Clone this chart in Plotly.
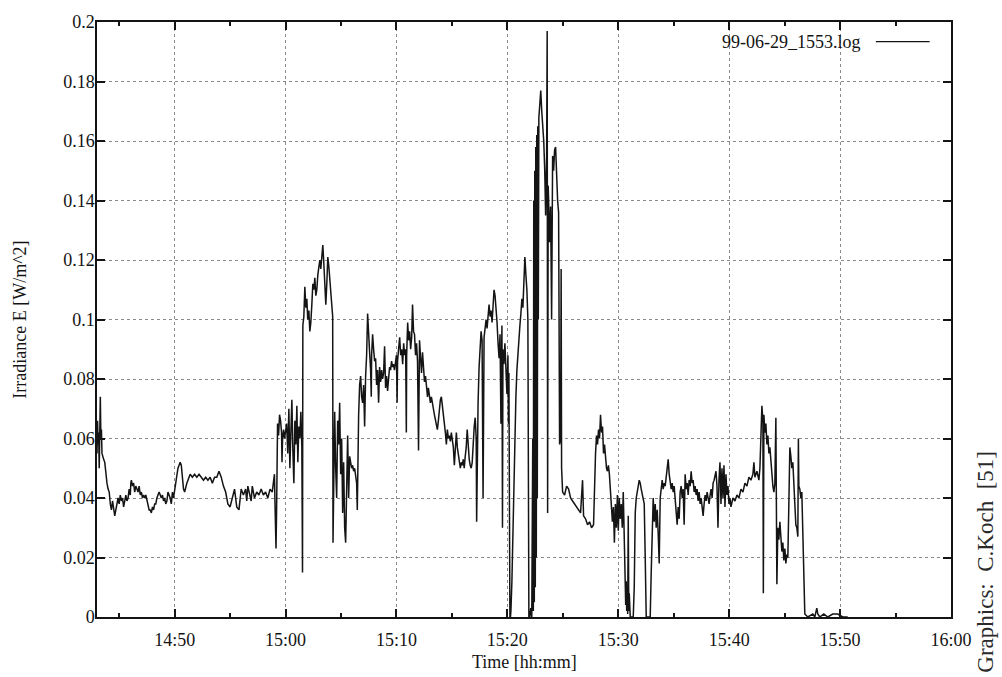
import pandas as pd
import plotly.graph_objects as go

# ---------------- data ----------------
start_time = "1999-06-29 14:43:00"
end_time = "1999-06-29 16:00:00"
series_name = "99-06-29_1553.log"

# minutes elapsed since 14:43:00
t_min = [
    0.00, 0.05, 0.10, 0.15, 0.20, 0.25, 0.30, 0.35, 0.40, 0.45,
    0.50, 0.60, 0.70, 0.80, 0.90, 1.00, 1.10, 1.20, 1.30, 1.40,
    1.50, 1.60, 1.70, 1.80, 1.90, 2.00, 2.10, 2.20, 2.30, 2.40,
    2.50, 2.60, 2.70, 2.80, 2.90, 3.00, 3.05, 3.10, 3.20, 3.30,
    3.40, 3.50, 3.60, 3.70, 3.80, 3.90, 4.00, 4.10, 4.20, 4.30,
    4.40, 4.50, 4.60, 4.70, 4.80, 4.90, 5.00, 5.10, 5.20, 5.30,
    5.40, 5.50, 5.60, 5.70, 5.80, 5.90, 6.00, 6.10, 6.20, 6.30,
    6.40, 6.50, 6.60, 6.70, 6.80, 6.90, 7.00, 7.10, 7.20, 7.30,
    7.40, 7.50, 7.60, 7.70, 7.80, 7.90, 8.00, 8.10, 8.20, 8.30,
    8.40, 8.60, 8.80, 9.00, 9.20, 9.40, 9.60, 9.80, 10.00, 10.20,
    10.40, 10.60, 10.80, 11.00, 11.20, 11.40, 11.60, 11.80, 12.00, 12.20,
    12.40, 12.60, 12.80, 13.00, 13.20, 13.40, 13.50, 13.60, 13.80, 13.90,
    14.00, 14.20, 14.40, 14.60, 14.80, 15.00, 15.20, 15.40, 15.60, 15.80,
    15.90, 16.00, 16.05, 16.10, 16.14, 16.19, 16.23, 16.28, 16.37, 16.46,
    16.55, 16.64, 16.68, 16.73, 16.82, 16.91,
    17.10, 17.20, 17.30, 17.39, 17.48, 17.57, 17.66, 17.75, 17.84, 17.93,
    18.02, 18.11, 18.20, 18.29, 18.38, 18.47, 18.53, 18.56, 18.65, 18.74,
    18.83, 18.92, 19.00, 19.10, 19.19, 19.28, 19.37, 19.46, 19.55, 19.64,
    19.73, 19.82, 19.91, 20.00, 20.09, 20.18, 20.27, 20.36, 20.45, 20.54,
    20.63, 20.72, 20.81, 20.90, 20.98, 21.07, 21.16, 21.25, 21.28, 21.34,
    21.43, 21.52, 21.61, 21.70, 21.79, 21.88, 21.97, 22.06, 22.15, 22.24,
    22.33, 22.42, 22.51, 22.60, 22.69, 22.78, 22.87, 22.96, 23.05, 23.14,
    23.23, 23.32, 23.41, 23.47, 23.50, 23.59, 23.68, 23.77, 23.86, 23.95,
    24.04, 24.13, 24.22, 24.31, 24.40, 24.49, 24.58, 24.67, 24.73, 24.76,
    24.85, 24.94, 25.03, 25.12, 25.21, 25.30, 25.39, 25.48, 25.57, 25.66,
    25.75, 25.84, 25.93, 26.02, 26.11, 26.20, 26.29, 26.38, 26.47, 26.56,
    26.65, 26.73, 26.82, 26.91,
    27.00, 27.06, 27.10, 27.19, 27.29, 27.38, 27.47, 27.56, 27.65, 27.74,
    27.83, 27.89, 27.92, 28.01, 28.10, 28.19, 28.28, 28.37, 28.45, 28.54,
    28.63, 28.72, 28.81, 28.90, 28.99, 29.08, 29.17, 29.26, 29.35, 29.44,
    29.53, 29.62, 29.71, 29.80, 29.88, 29.97, 30.06, 30.15, 30.24, 30.33,
    30.42, 30.51, 30.60, 30.69, 30.78, 30.87, 30.96, 31.05, 31.14, 31.23,
    31.32, 31.41, 31.50, 31.59, 31.68, 31.77, 31.86, 31.95, 32.04, 32.13,
    32.22, 32.31, 32.40, 32.49, 32.58, 32.67, 32.76, 32.85, 32.94, 33.02,
    33.11, 33.20, 33.29, 33.38, 33.47, 33.56, 33.65, 33.74, 33.83, 33.92,
    34.01, 34.10, 34.19, 34.23, 34.28, 34.36, 34.45, 34.54, 34.63, 34.72,
    34.81, 34.90, 34.99, 35.08, 35.17, 35.26, 35.35, 35.44, 35.53, 35.62,
    35.71, 35.80, 35.89, 35.98, 36.07, 36.16, 36.25, 36.34, 36.42, 36.51,
    36.56, 36.60, 36.69, 36.78, 36.87, 36.96, 37.05, 37.10, 37.14,
    37.19, 37.23, 37.28, 37.32, 37.41, 37.50, 37.59, 37.68, 37.77, 37.86,
    37.95, 38.04, 38.13, 38.22, 38.31, 38.40, 38.49, 38.58, 38.67, 38.76,
    38.85, 38.89, 38.94, 39.02, 39.11, 39.20, 39.29, 39.34, 39.38, 39.43,
    39.47, 39.52, 39.56, 39.61, 39.65, 39.70, 39.74, 39.79, 39.84, 39.92,
    40.01, 40.10, 40.19, 40.28, 40.37, 40.45, 40.54, 40.59, 40.63, 40.68,
    40.72, 40.81, 40.90, 40.99, 41.03, 41.08, 41.17, 41.26, 41.35, 41.44,
    41.53, 41.62, 41.66, 41.71, 41.80, 41.85, 41.89, 41.98, 42.16, 42.34,
    42.52, 42.70, 42.88, 43.06, 43.24, 43.43, 43.60, 43.78, 43.87, 44.05,
    44.23, 44.41, 44.59, 44.77, 44.86, 44.95, 45.04, 45.13, 45.22, 45.31,
    45.40, 45.49, 45.58, 45.67, 45.76, 45.85, 45.94, 46.02, 46.11, 46.20,
    46.29, 46.38, 46.47, 46.56, 46.65, 46.74, 46.83, 46.92, 47.00, 47.09,
    47.18, 47.27, 47.36, 47.45, 47.54, 47.63, 47.67, 47.72, 47.76, 47.81,
    47.85, 47.90, 47.95, 47.99, 48.08,
    48.26, 48.35, 48.44, 48.53, 48.62, 48.71, 48.80, 48.89, 48.98, 49.07,
    49.16, 49.25, 49.34, 49.43, 49.52, 49.70, 49.88, 49.97, 50.06, 50.15,
    50.24, 50.33, 50.42, 50.51, 50.60, 50.69, 50.78, 50.87, 50.96, 51.05,
    51.14, 51.23, 51.32, 51.41, 51.50, 51.59, 51.68, 51.77, 51.86, 51.95,
    52.04, 52.13, 52.22, 52.31, 52.40, 52.49, 52.58, 52.67, 52.76, 52.85,
    52.94, 53.03, 53.12, 53.21, 53.30, 53.39, 53.48, 53.57, 53.66, 53.75,
    53.84, 53.93, 54.02, 54.11, 54.20, 54.29, 54.38, 54.47, 54.56, 54.65,
    54.74, 54.83, 54.92, 55.01, 55.10, 55.19, 55.28, 55.37, 55.46, 55.55,
    55.64, 55.73, 55.81, 55.90, 55.99, 56.08, 56.17, 56.26, 56.35, 56.44,
    56.53, 56.62, 56.71, 56.80, 56.89, 56.98, 57.07, 57.16, 57.34, 57.52,
    57.70, 57.88, 58.06, 58.24, 58.42, 58.60, 58.78, 58.96, 59.14, 59.23,
    59.32, 59.50, 59.68, 59.77, 59.86, 59.95, 60.04, 60.08, 60.13, 60.22,
    60.31, 60.40, 60.49, 60.58, 60.67, 60.76, 60.85, 60.94, 61.03, 61.12,
    61.21, 61.25, 61.30, 61.39, 61.48, 61.57, 61.66, 61.75, 61.84, 61.93,
    62.02, 62.11, 62.20, 62.29, 62.38, 62.47, 62.56, 62.65, 62.74, 62.83,
    62.92, 63.01, 63.10, 63.19, 63.24, 63.28, 63.37, 63.46, 63.55, 63.64,
    63.73, 63.82, 64.09, 64.54, 64.72, 64.90, 64.99, 65.17, 65.53, 65.89,
    66.34, 66.79, 67.24, 67.69,
]

# irradiance E [W/m^2]
irr = [
    .055, .066, .058, .062, .050, .067, .074, .060, .063, .055,
    .054, .053, .052, .048, .045, .043, .042, .038, .036, .039,
    .037, .034, .036, .039, .040, .038, .041, .039, .040, .037,
    .040, .041, .039, .040, .043, .041, .045, .046, .044, .045,
    .042, .044, .043, .042, .044, .041, .042, .040, .041, .040,
    .041, .039, .037, .036, .036, .035, .037, .036, .038, .038,
    .040, .041, .042, .041, .040, .041, .039, .040, .038, .039,
    .042, .041, .040, .038, .042, .040, .043, .044, .047, .050,
    .051, .052, .051, .047, .043, .042, .044, .045, .046, .047,
    .048, .047, .048, .047, .048, .047, .046, .047, .046, .047,
    .045, .047, .047, .049, .047, .044, .042, .038, .037, .040,
    .043, .037, .036, .043, .041, .043, .039, .044, .041, .039,
    .044, .040, .042, .041, .043, .041, .042, .040, .043, .042,
    .045, .048, .038, .030, .023, .035, .052, .065, .061, .068,
    .066, .062, .052, .060, .063, .060,
    .065, .055, .070, .050, .062, .073, .056, .045, .066, .058,
    .071, .052, .064, .060, .069, .057, .015, .098, .101, .111,
    .104, .107, .100, .103, .096, .099, .105, .112, .110, .114,
    .108, .110, .115, .117, .120, .117, .122, .125, .119, .113,
    .105, .112, .121, .118, .114, .112, .106, .101, .025, .055,
    .069, .050, .040, .066, .058, .072, .048, .060, .035, .052,
    .030, .025, .045, .061, .040, .054, .052, .050, .051, .049,
    .050, .048, .045, .036, .050, .068, .078, .081, .074, .072,
    .078, .064, .081, .088, .102, .092, .089, .083, .074, .088,
    .095, .090, .086, .087, .078, .083, .072, .084, .079, .083,
    .080, .082, .091, .077, .081, .076, .082, .084, .083, .086,
    .084, .085, .083, .086,
    .088, .072, .086, .090, .094, .088, .090, .085, .092, .088,
    .090, .062, .088, .099, .093, .096, .090, .094, .105, .096,
    .095, .088, .092, .086, .056, .093, .086, .082, .089, .083,
    .079, .081, .076, .074, .077, .075, .072, .074, .071, .070,
    .068, .066, .065, .063, .066, .071, .073, .074, .070, .067,
    .065, .062, .058, .063, .060, .061, .059, .062, .060, .057,
    .051, .058, .062, .057, .055, .053, .050, .052, .051, .053,
    .050, .054, .057, .063, .055, .053, .051, .050, .052, .061,
    .064, .067, .060, .032, .050, .072, .084, .090, .096, .093,
    .040, .094, .098, .100, .097, .102, .105, .101, .103, .099,
    .106, .110, .108, .104, .099, .092, .087, .095, .065, .098,
    .030, .090, .085, .092, .080, .075, .088, .065, .082,
    .000, .000, .000, .002, .012, .030, .048, .062, .074, .083,
    .089, .094, .098, .102, .107, .104, .112, .121, .115, .110,
    .100, .050, .000, .000, .003, .000, .060, .002, .140, .005,
    .150, .010, .158, .020, .162, .040, .165, .100, .168, .172,
    .177, .170, .166, .160, .150, .135, .155, .197, .035, .145,
    .140, .126, .138, .100, .148, .155, .150, .157, .158, .145,
    .140, .136, .060, .058, .060, .117, .050, .042, .041, .044,
    .043, .040, .039, .038, .037, .036, .035, .046, .034, .033,
    .031, .032, .030, .031, .045, .055, .061, .058, .063, .060,
    .068, .062, .064, .055, .058, .053, .050, .049, .051, .048,
    .042, .040, .032, .037, .025, .038, .030, .041, .029, .040,
    .033, .038, .030, .042, .025, .015, .004, .012, .002, .010,
    .001, .034, .002, .008, .000,
    .000, .000, .010, .035, .040, .043, .044, .046, .045, .043,
    .041, .040, .038, .020, .000, .000, .000, .015, .035, .040,
    .032, .038, .030, .036, .028, .018, .040, .044, .046, .043,
    .045, .044, .047, .050, .053, .048, .044, .043, .045, .042,
    .044, .040, .036, .031, .037, .033, .042, .044, .040, .043,
    .031, .048, .043, .045, .041, .046, .044, .049, .045, .046,
    .042, .044, .041, .043, .039, .042, .038, .040, .037, .034,
    .038, .041, .039, .042, .040, .038, .041, .043, .040, .045,
    .046, .048, .049, .044, .030, .046, .052, .038, .050, .040,
    .051, .037, .048, .041, .044, .038, .040, .037, .040, .039,
    .041, .040, .043, .042, .045, .044, .047, .046, .048, .052,
    .047, .049, .046, .050, .060, .071, .066, .008, .068, .062,
    .065, .058, .061, .055, .057, .052, .048, .044, .042, .045,
    .067, .040, .011, .030, .026, .032, .024, .022, .025, .019,
    .023, .018, .021, .020, .038, .057, .054, .050, .052, .046,
    .038, .031, .030, .027, .060, .044, .043, .040, .042, .030,
    .010, .001, .000, .001, .000, .003, .001, .000, .001, .000,
    .001, .001, .000, .000,
]

x_tick_labels = ["14:50", "15:00", "15:10", "15:20", "15:30", "15:40", "15:50", "16:00"]
y_tick_vals = [0, 0.02, 0.04, 0.06, 0.08, 0.1, 0.12, 0.14, 0.16, 0.18, 0.2]
y_tick_labels = ["0", "0.02", "0.04", "0.06", "0.08", "0.1", "0.12", "0.14", "0.16", "0.18", "0.2"]

x_title = "Time [hh:mm]"
y_title = "Irradiance E [W/m^2]"
credit = "Graphics:  C.Koch  [51]"

assert len(t_min) == len(irr), (len(t_min), len(irr))

# ---------------- figure ----------------
day = start_time.split(" ")[0]
times = pd.Timestamp(start_time) + pd.to_timedelta(t_min, unit="min")
x_tick_vals = [pd.Timestamp(day + " " + s) for s in x_tick_labels]

ink = "#141414"
serif = "Liberation Serif"
tick_font = dict(family=serif, size=18, color=ink)

fig = go.Figure()
fig.add_trace(go.Scatter(
    x=times, y=irr, mode="lines", name=series_name,
    line=dict(color=ink, width=1.5), showlegend=False,
))

fig.update_layout(
    width=1002, height=677,
    margin=dict(l=97, r=51, t=12, b=60),
    paper_bgcolor="white", plot_bgcolor="white",
    font=dict(family=serif, size=18, color=ink),
    showlegend=False,
)

fig.update_xaxes(
    type="date", range=[start_time, end_time],
    tickmode="array", tickvals=x_tick_vals, ticktext=x_tick_labels,
    tickfont=tick_font,
    ticks="inside", ticklen=8, tickwidth=1.5, tickcolor=ink,
    showline=True, linecolor=ink, linewidth=1.5, mirror="allticks",
    showgrid=True, gridcolor="#8a8a8a", griddash="dot", gridwidth=1,
    zeroline=False, ticklabelstandoff=6,
    minor=dict(tick0=day + " 14:45:00", dtick=300000, ticks="inside",
               ticklen=4, tickwidth=1.5, tickcolor=ink, showgrid=False),
)
fig.update_yaxes(
    range=[0, 0.2],
    tickmode="array", tickvals=y_tick_vals, ticktext=y_tick_labels,
    tickfont=tick_font,
    ticks="inside", ticklen=8, tickwidth=1.5, tickcolor=ink,
    showline=True, linecolor=ink, linewidth=1.5, mirror="allticks",
    showgrid=True, gridcolor="#8a8a8a", griddash="dot", gridwidth=1,
    zeroline=False, ticklabelstandoff=-3,
)

# axis titles
fig.add_annotation(text=x_title, xref="paper", yref="paper", x=0.5, y=-0.076,
                   xanchor="center", yanchor="middle", showarrow=False,
                   font=dict(family=serif, size=18, color=ink))
fig.add_annotation(text=y_title, xref="paper", yref="paper", x=-0.091, y=0.5,
                   xanchor="center", yanchor="middle", textangle=-90, showarrow=False,
                   font=dict(family=serif, size=18, color=ink))

# gnuplot-style key: text then line sample
fig.add_annotation(text=series_name, xref="paper", yref="paper", x=0.897, y=0.967,
                   xanchor="right", yanchor="middle", showarrow=False,
                   font=dict(family=serif, size=18, color=ink))
fig.add_shape(type="line", xref="paper", yref="paper", x0=0.912, x1=0.975,
              y0=0.967, y1=0.967, line=dict(color=ink, width=1.3))

# credit on the right
fig.add_annotation(text=credit, xref="paper", yref="paper", x=1.041, y=0.093,
                   xanchor="center", yanchor="middle", textangle=-90, showarrow=False,
                   font=dict(family=serif, size=23, color="#2a2a2a"))

fig.write_html("out.html")
